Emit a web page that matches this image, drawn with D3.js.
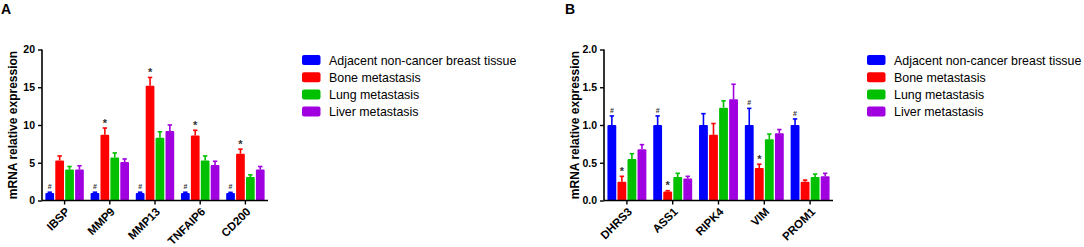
<!DOCTYPE html>
<html>
<head>
<meta charset="utf-8">
<script src="https://cdn.jsdelivr.net/npm/d3@7"></script>
<style>
  body { margin: 0; background: #fff; }
  text { font-family: "Liberation Sans", Arial, sans-serif; }
</style>
</head>
<body>
<svg id="chart" width="1084" height="247"></svg>
<script>
// series names + colours
var groups = ["Adjacent non-cancer breast tissue", "Bone metastasis", "Lung metastasis", "Liver metastasis"];
var colors = ["#0000ff", "#ff0000", "#00c000", "#a000e0"];

// panel A
var genesA = ["IBSP", "MMP9", "MMP13", "TNFAIP6", "CD200"];
var adjacentA = [1.0, 1.0, 1.0, 1.0, 1.0];
var boneA = [5.3, 8.7, 15.2, 8.6, 6.2];
var lungA = [4.1, 5.7, 8.3, 5.3, 3.1];
var liverA = [4.1, 5.1, 9.2, 4.7, 4.1];
var adjacentErrA = [0.1, 0.1, 0.1, 0.1, 0.08];
var boneErrA = [0.6, 0.9, 1.1, 0.7, 0.6];
var lungErrA = [0.4, 0.6, 0.8, 0.6, 0.3];
var liverErrA = [0.5, 0.4, 0.8, 0.5, 0.4];
var hashA = ["#", "#", "#", "#", "#"];
var starA = ["", "*", "*", "*", "*"];
var yTicksA = [0, 5, 10, 15, 20];

// panel B
var genesB = ["DHRS3", "ASS1", "RIPK4", "VIM", "PROM1"];
var adjacentB = [1.0, 1.0, 1.0, 1.0, 1.0];
var boneB = [0.25, 0.12, 0.87, 0.43, 0.25];
var lungB = [0.55, 0.31, 1.23, 0.81, 0.31];
var liverB = [0.68, 0.29, 1.34, 0.89, 0.32];
var adjacentErrB = [0.12, 0.12, 0.15, 0.22, 0.08];
var boneErrB = [0.07, 0.01, 0.15, 0.05, 0.02];
var lungErrB = [0.07, 0.05, 0.09, 0.07, 0.04];
var liverErrB = [0.06, 0.03, 0.2, 0.05, 0.04];
var hashB = ["#", "#", "", "#", "#"];
var starB = ["*", "*", "", "*", ""];
var yTicksB = [0, 0.5, 1.0, 1.5, 2.0];

var svg = d3.select("#chart");
svg.append("rect").attr("width", 1084).attr("height", 247).attr("fill", "#fff");

function drawPanel(p) {
    var g = svg.append("g");

    var x = d3.scaleBand().domain(p.genes).range([p.left, p.right])
        .paddingInner(0.15).paddingOuter(0.075);
    var xs = d3.scaleBand().domain(d3.range(4)).range([0, x.bandwidth()])
        .paddingInner(0.12);
    var y = d3.scaleLinear().domain([0, p.yMax]).range([200.5, 49.5]);

    // flatten data
    var rows = [];
    p.genes.forEach(function(gene, i) {
        p.means.forEach(function(s, k) {
            rows.push({gene: gene, k: k, v: s[i], e: p.errs[k][i], i: i});
        });
    });

    // error bars (drawn first so bar covers the lower part)
    var eb = g.selectAll(".err").data(rows).enter().append("g")
        .attr("stroke", function(d) { return colors[d.k]; })
        .attr("stroke-width", 1.6);
    eb.append("line")
        .attr("x1", function(d) { return x(d.gene) + xs(d.k) + xs.bandwidth() / 2; })
        .attr("x2", function(d) { return x(d.gene) + xs(d.k) + xs.bandwidth() / 2; })
        .attr("y1", function(d) { return y(d.v); })
        .attr("y2", function(d) { return y(d.v + d.e); });
    eb.append("line")
        .attr("x1", function(d) { return x(d.gene) + xs(d.k) + xs.bandwidth() / 2 - 2.2; })
        .attr("x2", function(d) { return x(d.gene) + xs(d.k) + xs.bandwidth() / 2 + 2.2; })
        .attr("y1", function(d) { return y(d.v + d.e); })
        .attr("y2", function(d) { return y(d.v + d.e); });

    g.selectAll(".bar").data(rows).enter().append("rect")
        .attr("class", "bar")
        .attr("x", function(d) { return x(d.gene) + xs(d.k); })
        .attr("width", xs.bandwidth())
        .attr("y", function(d) { return y(d.v); })
        .attr("height", function(d) { return y(0) - y(d.v); })
        .attr("rx", 1)
        .attr("fill", function(d) { return colors[d.k]; });

    // significance marks
    rows.forEach(function(d) {
        var mark = d.k === 0 ? p.hash[d.i] : (d.k === 1 ? p.star[d.i] : "");
        if (!mark) return;
        g.append("text")
            .attr("x", x(d.gene) + xs(d.k) + xs.bandwidth() / 2)
            .attr("y", y(d.v + d.e) - (d.k === 0 ? 3 : 1.5))
            .attr("text-anchor", "middle")
            .attr("font-size", d.k === 0 ? 7 : 11)
            .attr("font-weight", "bold")
            .attr("fill", "#333")
            .text(mark);
    });

    // axes
    var yAxis = d3.axisLeft(y).tickValues(p.yTicks).tickSize(4).tickPadding(3)
        .tickFormat(p.fmt);
    var gy = g.append("g").attr("transform", "translate(" + p.left + ",0)").call(yAxis);
    var xAxis = d3.axisBottom(x).tickSize(4).tickFormat("");
    var gx = g.append("g").attr("transform", "translate(0," + y(0) + ")").call(xAxis);
    [gy, gx].forEach(function(a) {
        a.select(".domain").attr("stroke", "#000").attr("stroke-width", 1.6);
        a.selectAll(".tick line").attr("stroke", "#000").attr("stroke-width", 1.4);
    });
    gy.select(".domain").attr("d", "M" + 0 + "," + y(p.yMax) + "V" + y(0));
    gx.select(".domain").attr("d", "M" + p.left + ",0H" + p.right);
    gy.selectAll(".tick text").attr("font-size", 10.5).attr("font-weight", "bold")
        .attr("fill", "#000").style("font-family", "'Liberation Sans', Arial, sans-serif");

    // rotated gene labels
    p.genes.forEach(function(gene) {
        var cx = x(gene) + x.bandwidth() / 2;
        g.append("text")
            .attr("transform", "translate(" + (cx + 3) + "," + (y(0) + 9) + ") rotate(-45)")
            .attr("text-anchor", "end")
            .attr("dy", "0.35em")
            .attr("font-size", 11.5)
            .attr("font-weight", "bold")
            .text(gene);
    });

    // y label
    g.append("text")
        .attr("transform", "translate(" + (p.left - 25) + ",125) rotate(-90)")
        .attr("text-anchor", "middle")
        .attr("font-size", 12)
        .attr("font-weight", "bold")
        .text("mRNA relative expression");

    // panel letter
    g.append("text")
        .attr("x", p.letterX).attr("y", 13.5)
        .attr("font-size", 14).attr("font-weight", "bold")
        .text(p.letter);

    // legend
    var lg = g.append("g").attr("transform", "translate(" + p.legendX + ",55)");
    groups.forEach(function(name, k) {
        lg.append("rect").attr("x", 0).attr("y", k * 17.2).attr("width", 18.5).attr("height", 10)
            .attr("rx", 2).attr("fill", colors[k]);
        lg.append("text").attr("x", 27).attr("y", k * 17.2 + 9.5)
            .attr("font-size", 12.4).text(name);
    });
}

drawPanel({
    letter: "A", letterX: 1, left: 42, right: 268, yMax: 20,
    genes: genesA, means: [adjacentA, boneA, lungA, liverA],
    errs: [adjacentErrA, boneErrA, lungErrA, liverErrA],
    hash: hashA, star: starA, yTicks: yTicksA, fmt: d3.format("d"),
    legendX: 302
});

drawPanel({
    letter: "B", letterX: 565, left: 604, right: 833, yMax: 2,
    genes: genesB, means: [adjacentB, boneB, lungB, liverB],
    errs: [adjacentErrB, boneErrB, lungErrB, liverErrB],
    hash: hashB, star: starB, yTicks: yTicksB, fmt: d3.format(".1f"),
    legendX: 867
});
</script>
</body>
</html>
